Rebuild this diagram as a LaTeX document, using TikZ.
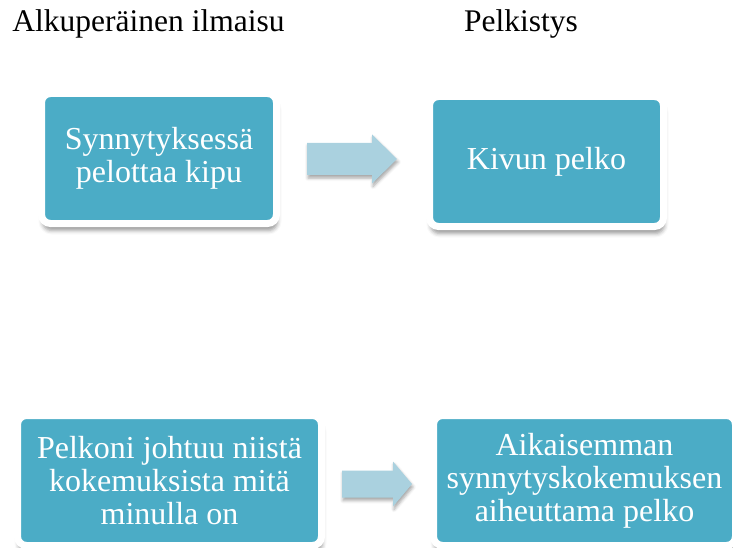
\documentclass[tikz,border=0pt]{standalone}
\usepackage{fontspec}
\setmainfont{Liberation Serif}
\usepackage{xcolor}
\usetikzlibrary{shadows.blur}

\definecolor{boxteal}{HTML}{4BACC6}
\definecolor{arrowblue}{HTML}{AAD1DF}

\begin{document}
\begin{tikzpicture}[x=1pt, y=-1pt,
    box/.style={rectangle, rounded corners=9pt, fill=boxteal, draw=white,
        line width=7pt, text=white, align=center, inner sep=0pt,
        minimum height=130pt,
        font=\fontsize{32}{33}\selectfont,
        blur shadow={shadow xshift=1pt, shadow yshift=-7pt,
            shadow blur radius=4pt, shadow opacity=40}},
    bigarrow/.style={fill=arrowblue,
        blur shadow={shadow xshift=1pt, shadow yshift=-3pt,
            shadow blur radius=3pt, shadow opacity=35}},
    heading/.style={font=\fontsize{31.5}{36}\selectfont, anchor=base}]

    % Fix the page size
    \useasboundingbox (0,0) rectangle (733,548);

    % Column headings
    \node[heading] (orig) at (148.5,32) {Alkuperäinen ilmaisu};
    \node[heading] (simple) at (521,32) {Pelkistys};

    % First row
    \node[box, minimum width=235pt] (say1) at (159,158.5) {Synnytyksessä\\pelottaa kipu};
    \node[box, minimum width=234pt] (red1) at (546.5,161.5) {Kivun pelko};
    \coordinate (a1) at (307,159);
    \fill[bigarrow, shift={(a1)}] (0,-16) -- (65,-16) -- (65,-24.5) -- (90,0)
        -- (65,24.5) -- (65,16) -- (0,16) -- cycle;

    % Second row
    \node[box, minimum width=304pt] (say2) at (169.5,480.5) {Pelkoni johtuu niistä\\kokemuksista mitä\\minulla on};
    \node[box, minimum width=302pt] (red2) at (584.5,480.5) {Aikaisemman\\synnytyskokemuksen\\aiheuttama pelko};
    \coordinate (a2) at (342,484);
    \fill[bigarrow, shift={(a2)}] (0,-13.5) -- (51,-13.5) -- (51,-22.5) -- (70,0)
        -- (51,22.5) -- (51,13.5) -- (0,13.5) -- cycle;

\end{tikzpicture}
\end{document}
